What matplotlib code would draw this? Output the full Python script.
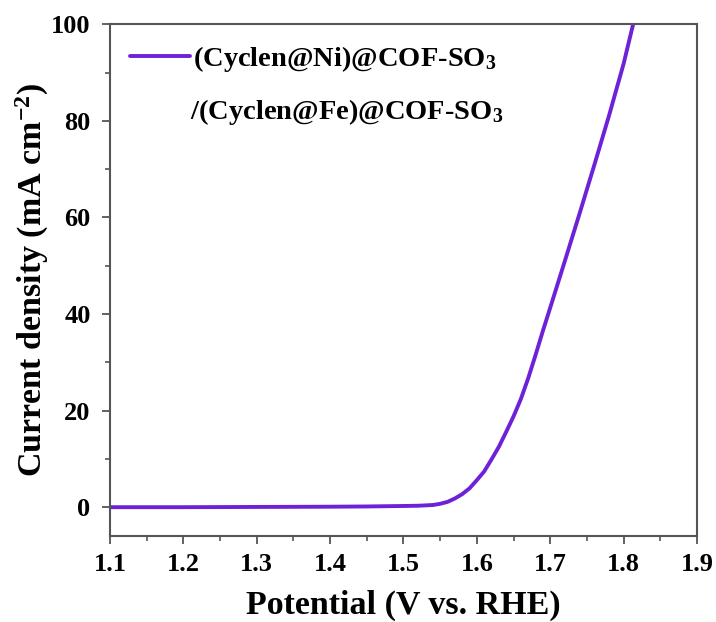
import numpy as np
import matplotlib
matplotlib.use("Agg")
import matplotlib.pyplot as plt
from matplotlib.ticker import MultipleLocator

# LSV polarization curve (values read point by point)
potential = [1.10, 1.20, 1.30, 1.40, 1.45, 1.50, 1.52, 1.54, 1.55, 1.56,
             1.57, 1.58, 1.59, 1.60, 1.61, 1.62, 1.63, 1.64, 1.65, 1.66,
             1.67, 1.68, 1.69, 1.70, 1.72, 1.74, 1.76, 1.78, 1.80, 1.813]
current = [0.0, 0.0, 0.05, 0.1, 0.15, 0.25, 0.3, 0.45, 0.7, 1.1,
           1.8, 2.7, 3.9, 5.6, 7.4, 9.9, 12.5, 15.6, 18.8, 22.4,
           26.7, 31.5, 36.5, 41.3, 51.0, 60.8, 70.8, 81.0, 91.8, 100.0]

label_1 = "(Cyclen@Ni)@COF-SO$_\\mathbf{3}$"
label_2 = "/(Cyclen@Fe)@COF-SO$_\\mathbf{3}$"
line_color = "#6E22D8"

plt.rcParams["font.family"] = "Liberation Serif"
plt.rcParams["font.weight"] = "bold"
plt.rcParams["mathtext.fontset"] = "custom"
plt.rcParams["mathtext.rm"] = "Liberation Serif:bold"
plt.rcParams["mathtext.bf"] = "Liberation Serif:bold"
plt.rcParams["mathtext.default"] = "bf"

fig = plt.figure(figsize=(7.16, 6.22), dpi=100)
ax = fig.add_axes([0.1536, 0.138, 0.8198, 0.823])

ax.plot(potential, current, color=line_color, lw=2.8, label=label_1,
        solid_capstyle="round")

ax.set_xlim(1.1, 1.9)
ax.set_ylim(-6, 100)
ax.xaxis.set_major_locator(MultipleLocator(0.1))
ax.xaxis.set_minor_locator(MultipleLocator(0.05))
ax.yaxis.set_major_locator(MultipleLocator(20))
ax.yaxis.set_minor_locator(MultipleLocator(10))
ax.tick_params(which="major", direction="out", length=6, width=1.3,
               labelsize=19, pad=6, color="#555555")
ax.tick_params(axis="y", which="major", pad=8)
ax.tick_params(which="minor", direction="out", length=3.5, width=1.2,
               color="#555555")
for s in ax.spines.values():
    s.set_linewidth(1.5)
    s.set_color("#555555")

ax.set_xlabel("Potential (V vs. RHE)", fontsize=24.5, fontweight="bold",
              labelpad=10)
ax.set_ylabel("Current density (mA cm$^{-2}$)", fontsize=24.5,
              fontweight="bold", labelpad=0)

leg = ax.legend(loc="upper left", bbox_to_anchor=(0.0, 1.0), frameon=False,
                fontsize=20.5, handlelength=2.1, handletextpad=0.1,
                borderaxespad=0.3)
ax.text(0.136, 0.829, label_2, transform=ax.transAxes, fontsize=20.5,
        fontweight="bold", va="center", ha="left")

fig.savefig("out.png", dpi=100)
